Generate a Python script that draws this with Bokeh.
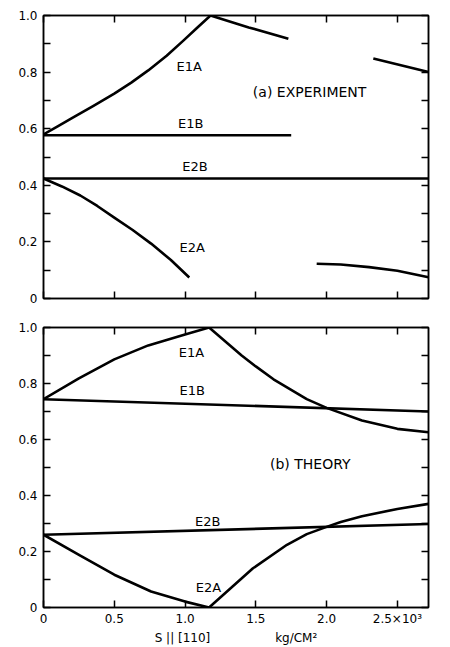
from bokeh.plotting import figure
from bokeh.models import Range1d, LinearAxis, FixedTicker, Label, CustomLabelingPolicy
from bokeh.layouts import column
from bokeh.embed import file_html
from bokeh.resources import INLINE

# ---------------- data ----------------
X_TICKS = [0, 0.5, 1.0, 1.5, 2.0, 2.5]
X_TICK_LABELS = ["0", "0.5", "1.0", "1.5", "2.0", "2.5\u00d710\u00b3"]
Y_TICKS = [0, 0.2, 0.4, 0.6, 0.8, 1.0]
Y_MINOR = [0.1, 0.3, 0.5, 0.7, 0.9]
Y_TICK_LABELS = ["0", "0.2", "0.4", "0.6", "0.8", "1.0"]
X_MAX = 2.72

# (a) experiment
EXP_E1A_X = [0, 0.1, 0.21, 0.35, 0.5, 0.62, 0.74, 0.87, 0.99, 1.08, 1.18, 1.45, 1.73]
EXP_E1A_Y = [0.58, 0.608, 0.64, 0.68, 0.724, 0.763, 0.806, 0.858, 0.912, 0.954, 1.0, 0.958, 0.918]
EXP_E1A2_X = [2.33, 2.72]
EXP_E1A2_Y = [0.848, 0.80]
EXP_E1B_X = [0, 1.75]
EXP_E1B_Y = [0.577, 0.577]
EXP_E2B_X = [0, 2.72]
EXP_E2B_Y = [0.424, 0.424]
EXP_E2A_X = [0, 0.13, 0.26, 0.38, 0.5, 0.63, 0.76, 0.9, 1.03]
EXP_E2A_Y = [0.424, 0.396, 0.364, 0.327, 0.286, 0.242, 0.194, 0.136, 0.074]
EXP_E2A2_X = [1.93, 2.1, 2.3, 2.5, 2.72]
EXP_E2A2_Y = [0.123, 0.12, 0.111, 0.098, 0.075]

# (b) theory
TH_E1A_X = [0, 0.25, 0.5, 0.74, 1.0, 1.17, 1.4, 1.5, 1.625, 1.86, 2.0, 2.25, 2.5, 2.72]
TH_E1A_Y = [0.744, 0.818, 0.886, 0.936, 0.975, 1.0, 0.90, 0.861, 0.815, 0.744, 0.713, 0.668, 0.638, 0.626]
TH_E1B_X = [0, 2.72]
TH_E1B_Y = [0.744, 0.70]
TH_E2B_X = [0, 2.72]
TH_E2B_Y = [0.26, 0.298]
TH_E2A_X = [0, 0.26, 0.5, 0.76, 1.0, 1.17, 1.48, 1.72, 1.86, 2.0, 2.1, 2.25, 2.5, 2.72]
TH_E2A_Y = [0.26, 0.185, 0.117, 0.057, 0.021, 0.0, 0.14, 0.224, 0.262, 0.288, 0.305, 0.326, 0.352, 0.37]

EXP_LABELS = [("E1A", 1.03, 0.82), ("E1B", 1.04, 0.618), ("E2B", 1.07, 0.466),
              ("E2A", 1.05, 0.18), ("(a) EXPERIMENT", 1.88, 0.728)]
TH_LABELS = [("E1A", 1.045, 0.91), ("E1B", 1.05, 0.776), ("E2B", 1.16, 0.306),
             ("E2A", 1.165, 0.071), ("(b) THEORY", 1.885, 0.512)]

X_AXIS_TITLE = "S || [110]" + "\u00a0" * 17 + "kg/CM\u00b2"

FONT = "DejaVu Sans"

NO_LABELS_JS = """
for (const i of Array.from(indices)) { indices.unset(i) }
return indices
"""


def style_axis(ax, show_labels):
    ax.axis_line_color = "black"
    ax.axis_line_width = 1.5
    ax.major_tick_in = 7
    ax.major_tick_out = 0
    ax.minor_tick_in = 7
    ax.minor_tick_out = 0
    ax.major_tick_line_width = 1.5
    ax.minor_tick_line_width = 1.5
    ax.major_tick_line_color = "black"
    ax.minor_tick_line_color = "black"
    ax.major_label_text_font = FONT
    ax.major_label_text_color = "black"
    ax.major_label_text_font_size = "12px"
    if not show_labels:
        ax.major_label_policy = CustomLabelingPolicy(code=NO_LABELS_JS)
        ax.major_label_standoff = 0


def make_panel(height, top, bottom, show_x_labels):
    p = figure(width=450, height=height, output_backend="svg", toolbar_location=None,
               x_range=Range1d(0, X_MAX), y_range=Range1d(0, 1),
               x_axis_location=None, y_axis_location=None,
               min_border_left=43, min_border_right=22,
               min_border_top=top, min_border_bottom=bottom)
    p.grid.visible = False
    p.outline_line_color = "black"
    p.outline_line_width = 1.5
    p.background_fill_color = "white"
    p.border_fill_color = "white"

    for loc in ("below", "above"):
        ax = LinearAxis(ticker=FixedTicker(ticks=X_TICKS, minor_ticks=[]))
        style_axis(ax, show_x_labels and loc == "below")
        if loc == "below" and show_x_labels:
            ax.major_label_overrides = dict(zip(X_TICKS, X_TICK_LABELS))
            ax.major_label_standoff = 4
            ax.axis_label = X_AXIS_TITLE
            ax.axis_label_text_font = FONT
            ax.axis_label_text_font_size = "12px"
            ax.axis_label_text_font_style = "normal"
            ax.axis_label_text_color = "black"
            ax.axis_label_standoff = 2
        p.add_layout(ax, loc)
    for loc in ("left", "right"):
        ax = LinearAxis(ticker=FixedTicker(ticks=Y_TICKS, minor_ticks=Y_MINOR))
        style_axis(ax, loc == "left")
        if loc == "left":
            ax.major_label_overrides = dict(zip(Y_TICKS, Y_TICK_LABELS))
            ax.major_label_standoff = 6
        p.add_layout(ax, loc)
    return p


def draw(p, xs, ys):
    p.line(xs, ys, line_color="black", line_width=2.6, line_join="round")


def labels(p, items):
    for text, x, y in items:
        size = "14px" if text.startswith("(") else "13px"
        p.add_layout(Label(x=x, y=y, text=text, text_align="center", text_baseline="middle",
                           text_font=FONT, text_font_size=size, text_color="black"))


p1 = make_panel(312, 15, 14, False)
for xs, ys in [(EXP_E1A_X, EXP_E1A_Y), (EXP_E1A2_X, EXP_E1A2_Y), (EXP_E1B_X, EXP_E1B_Y),
               (EXP_E2B_X, EXP_E2B_Y), (EXP_E2A_X, EXP_E2A_Y), (EXP_E2A2_X, EXP_E2A2_Y)]:
    draw(p1, xs, ys)
labels(p1, EXP_LABELS)

p2 = make_panel(335, 15, 39, True)
for xs, ys in [(TH_E1A_X, TH_E1A_Y), (TH_E1B_X, TH_E1B_Y), (TH_E2B_X, TH_E2B_Y),
               (TH_E2A_X, TH_E2A_Y)]:
    draw(p2, xs, ys)
labels(p2, TH_LABELS)

layout = column(p1, p2, spacing=0)
open("out.html", "w").write(file_html(layout, INLINE))
